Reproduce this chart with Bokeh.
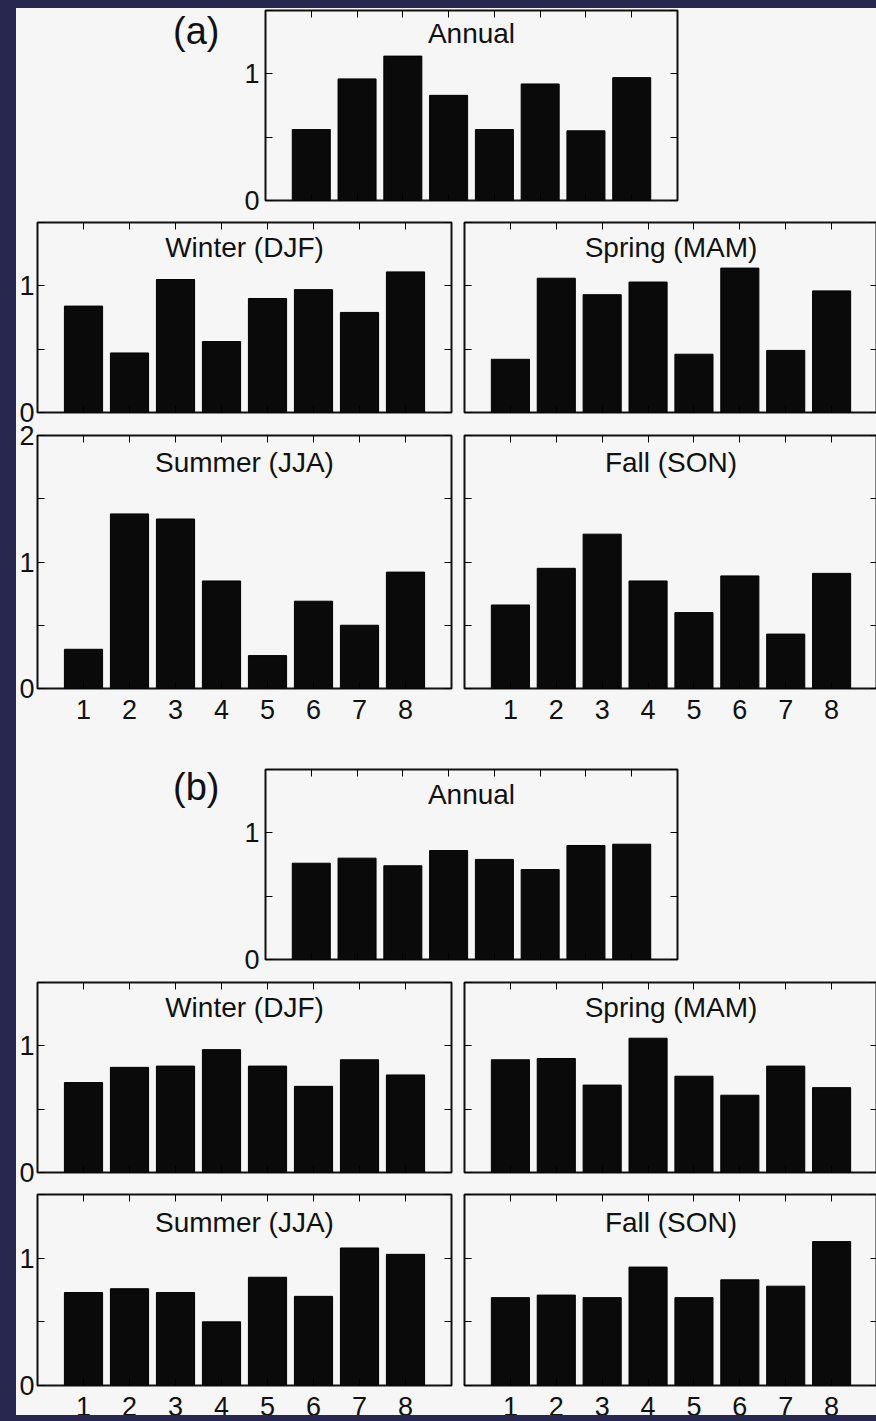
from bokeh.plotting import figure
from bokeh.models import (Range1d, LinearAxis, FixedTicker, Label, Div,
                          CustomJSTickFormatter, GlobalInlineStyleSheet)
from bokeh.layouts import row, column
from bokeh.embed import file_html
from bokeh.resources import INLINE

# ---------------- data ----------------
STATIONS = [1, 2, 3, 4, 5, 6, 7, 8]
X_TICKS = [1, 2, 3, 4, 5, 6, 7, 8]
Y_TICKS_15 = [0, 0.5, 1, 1.5]
Y_TICKS_20 = [0, 0.5, 1, 1.5, 2]

A_ANNUAL = [0.56, 0.96, 1.14, 0.83, 0.56, 0.92, 0.55, 0.97]
A_WINTER = [0.84, 0.47, 1.05, 0.56, 0.90, 0.97, 0.79, 1.11]
A_SPRING = [0.42, 1.06, 0.93, 1.03, 0.46, 1.14, 0.49, 0.96]
A_SUMMER = [0.31, 1.38, 1.34, 0.85, 0.26, 0.69, 0.50, 0.92]
A_FALL = [0.66, 0.95, 1.22, 0.85, 0.60, 0.89, 0.43, 0.91]

B_ANNUAL = [0.76, 0.80, 0.74, 0.86, 0.79, 0.71, 0.90, 0.91]
B_WINTER = [0.71, 0.83, 0.84, 0.97, 0.84, 0.68, 0.89, 0.77]
B_SPRING = [0.89, 0.90, 0.69, 1.06, 0.76, 0.61, 0.84, 0.67]
B_SUMMER = [0.73, 0.76, 0.73, 0.50, 0.85, 0.70, 1.08, 1.03]
B_FALL = [0.69, 0.71, 0.69, 0.93, 0.69, 0.83, 0.78, 1.13]

TITLES = ["Annual", "Winter (DJF)", "Spring (MAM)", "Summer (JJA)", "Fall (SON)"]
TAGS = ["(a)", "(b)"]

# ---------------- style ----------------
BG = "#f6f6f6"
NAVY = "#27274f"
FONT = "Liberation Sans"
TICK_FS = "27px"
TITLE_FS = "28px"

INT_FMT = CustomJSTickFormatter(code="return Number.isInteger(tick) ? tick.toFixed(0) : '';")


def style_axis(ax, show_labels, standoff=6):
    ax.axis_line_color = None
    ax.major_tick_in = 7
    ax.major_tick_out = 0
    ax.major_tick_line_color = "black"
    ax.major_tick_line_width = 1
    ax.minor_tick_line_color = None
    if show_labels:
        ax.major_label_text_font = FONT
        ax.major_label_text_font_size = TICK_FS
        ax.major_label_text_color = "#111111"
        ax.major_label_standoff = standoff
    else:
        ax.major_label_text_color = None
        ax.major_label_text_font_size = "1px"
        ax.major_label_standoff = 0


def panel(title, vals, ymax, bl, fw, br, bt, fh, bb, ylab, xlab, title_y, ystand=3):
    p = figure(width=bl + fw + br, height=bt + fh + bb,
               x_range=Range1d(0, 9), y_range=Range1d(0, ymax),
               output_backend="svg", toolbar_location=None, tools="",
               x_axis_location=None, y_axis_location=None,
               min_border_left=bl, min_border_right=br,
               min_border_top=bt, min_border_bottom=bb,
               background_fill_color=BG, border_fill_color=BG)
    p.grid.visible = False
    p.outline_line_color = "#111111"
    p.outline_line_width = 2
    p.outline_line_alpha = 1.0

    yt = Y_TICKS_20 if ymax > 1.5 else Y_TICKS_15
    left = LinearAxis(ticker=FixedTicker(ticks=yt), formatter=INT_FMT)
    style_axis(left, ylab, ystand)
    right = LinearAxis(ticker=FixedTicker(ticks=yt))
    style_axis(right, False)
    bottom = LinearAxis(ticker=FixedTicker(ticks=X_TICKS))
    style_axis(bottom, xlab, 11)
    top = LinearAxis(ticker=FixedTicker(ticks=X_TICKS))
    style_axis(top, False)
    p.add_layout(left, "left")
    p.add_layout(right, "right")
    p.add_layout(bottom, "below")
    p.add_layout(top, "above")

    p.vbar(x=STATIONS, top=vals, bottom=0, width=0.83,
           fill_color="#0a0a0a", line_color="black", line_width=1)

    p.add_layout(Label(x=4.5, y=title_y, text=title, text_align="center",
                       text_baseline="middle", text_font=FONT,
                       text_font_size=TITLE_FS, text_color="#111111"))
    return p


def tag_div(tag, height, top):
    html = ('<div style="margin-left:157px;margin-top:%dpx;font-family:\'Liberation Sans\';'
            'font-size:38px;line-height:1;color:#111111;">%s</div>' % (top, tag))
    return Div(text=html, width=220, height=height,
               styles={"background-color": BG, "margin": "0", "padding": "0"})


def navy(w, h, extra=None):
    st = {"background-color": NAVY, "margin": "0", "padding": "0"}
    if extra:
        st.update(extra)
    return Div(text="", width=w, height=h, styles=st)


# geometry: left border, frame w, right border, top border, frame h, bottom border
a_ann = panel(TITLES[0], A_ANNUAL, 1.5, 29, 412, 199, 2, 190, 11, True, False, 1.32, 6)
a_win = panel(TITLES[1], A_WINTER, 1.5, 21, 414, 6, 11, 190, 11, True, False, 1.30)
a_spr = panel(TITLES[2], A_SPRING, 1.5, 7, 413, 0, 11, 190, 11, False, False, 1.30)
a_sum = panel(TITLES[3], A_SUMMER, 2.0, 21, 414, 6, 12, 253, 62, True, True, 1.79)
a_fal = panel(TITLES[4], A_FALL, 2.0, 7, 413, 0, 12, 253, 62, False, True, 1.79)

b_ann = panel(TITLES[0], B_ANNUAL, 1.5, 29, 412, 199, 19, 190, 11, True, False, 1.30, 6)
b_win = panel(TITLES[1], B_WINTER, 1.5, 21, 414, 6, 12, 190, 11, True, False, 1.30)
b_spr = panel(TITLES[2], B_SPRING, 1.5, 7, 413, 0, 12, 190, 11, False, False, 1.30)
b_sum = panel(TITLES[3], B_SUMMER, 1.5, 21, 414, 6, 11, 191, 42, True, True, 1.28)
b_fal = panel(TITLES[4], B_FALL, 1.5, 7, 413, 0, 11, 191, 42, False, True, 1.28)

main_col = column(
    row(tag_div(TAGS[0], 203, 4), a_ann, spacing=0),
    row(a_win, a_spr, spacing=0),
    row(a_sum, a_fal, spacing=0),
    row(tag_div(TAGS[1], 220, 18), b_ann, spacing=0),
    row(b_win, b_spr, spacing=0),
    row(b_sum, b_fal, spacing=0),
    spacing=0,
    styles={"background-color": BG},
)
# heights: 203 + 212 + 327 + 220 + 213 + 244 = 1419 -> content ends at y = 1427

css = GlobalInlineStyleSheet(css=(
    "html, body { margin: 0; padding: 0; overflow: hidden; background-color: %s; }" % NAVY
))

p = column(
    navy(876, 8),
    row(navy(16, 1419), main_col, spacing=0),
    navy(876, 8, {"position": "relative", "top": "-12px", "z-index": "10"}),
    spacing=0, stylesheets=[css],
)

open("out.html", "w").write(file_html(p, INLINE))
